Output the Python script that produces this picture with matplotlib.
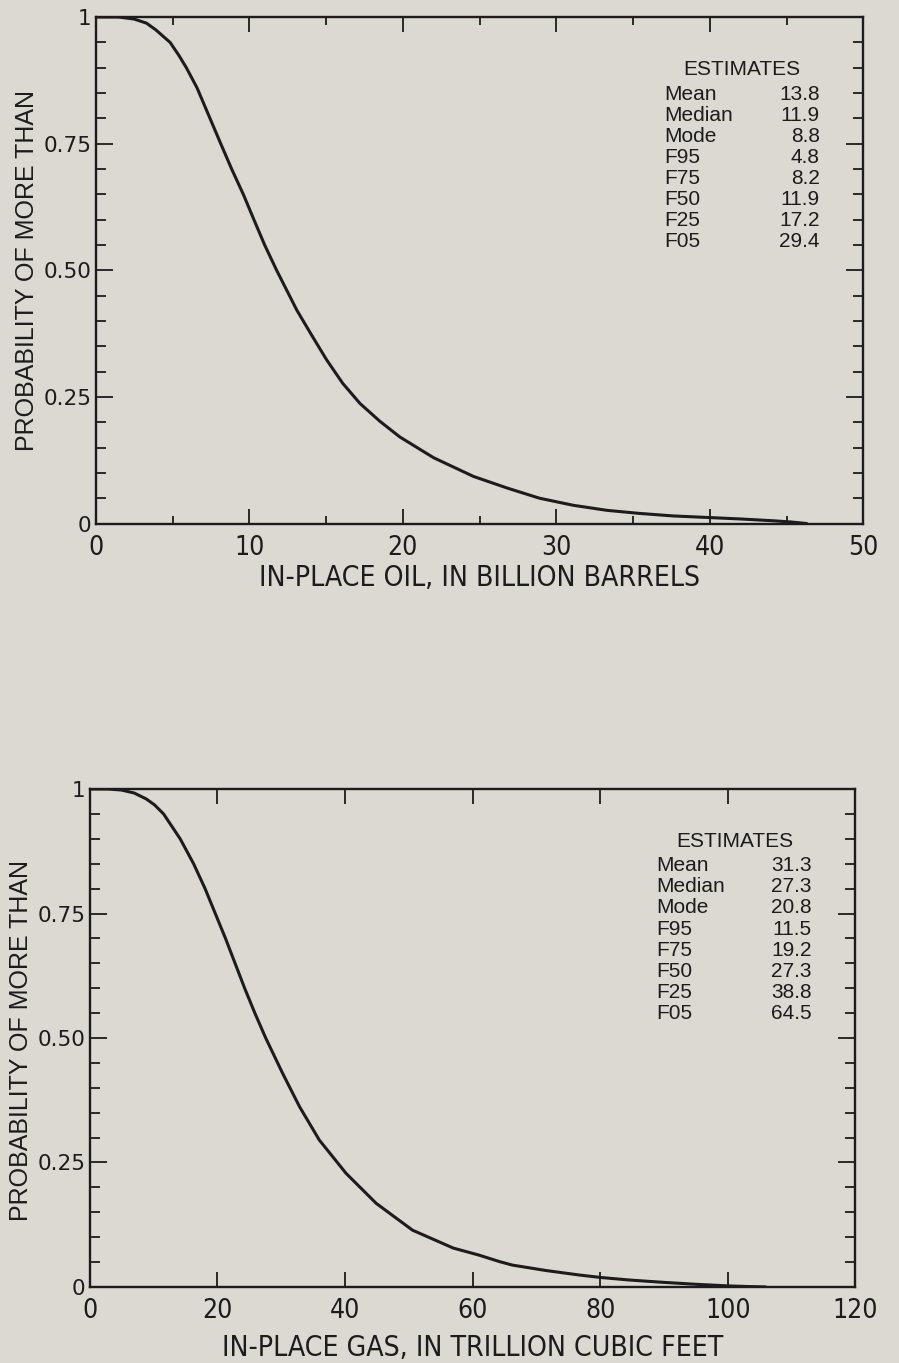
import matplotlib
matplotlib.use("Agg")
import matplotlib.pyplot as plt
from matplotlib.ticker import MultipleLocator, NullLocator

# ---------------- data ----------------
oil_x = [0, 1.5, 2.5, 3.3, 3.9, 4.84, 5.4, 5.9, 6.6, 7.44, 8.14, 8.85, 9.61,
         10.3, 11.0, 11.78, 13.1, 14.06, 15.04, 16.08, 17.21, 18.5, 19.8,
         22.0, 24.6, 26.8, 28.9, 31.1, 33.3, 35.4, 37.6, 39.8, 42.0, 44.1,
         45.3, 46.3]
oil_p = [1.0, 1.0, 0.996, 0.988, 0.975, 0.95, 0.925, 0.90, 0.86, 0.80, 0.75,
         0.70, 0.65, 0.60, 0.55, 0.50, 0.421, 0.372, 0.323, 0.277, 0.237,
         0.202, 0.171, 0.130, 0.093, 0.070, 0.050, 0.036, 0.026, 0.020,
         0.015, 0.012, 0.009, 0.0055, 0.003, 0.0]

gas_x = [0, 3, 5, 7, 8.9, 10.2, 11.6, 14.2, 16.3, 18.1, 19.7, 21.3, 22.8,
         24.3, 25.9, 27.6, 30.25, 32.9, 36.0, 40.2, 44.9, 50.6, 57.0, 61.0,
         64.2, 66.2, 71.5, 76.7, 80.1, 84.5, 89.7, 94.9, 100.2, 102.8, 105.9]
gas_p = [1.0, 1.0, 0.998, 0.992, 0.98, 0.968, 0.95, 0.90, 0.85, 0.80, 0.75,
         0.70, 0.65, 0.60, 0.55, 0.50, 0.429, 0.362, 0.295, 0.228, 0.168,
         0.114, 0.078, 0.064, 0.051, 0.044, 0.033, 0.024, 0.019, 0.014,
         0.0094, 0.0054, 0.002, 0.001, 0.0]

est_names = ["Mean", "Median", "Mode", "F95", "F75", "F50", "F25", "F05"]
oil_est = [13.8, 11.9, 8.8, 4.8, 8.2, 11.9, 17.2, 29.4]
gas_est = [31.3, 27.3, 20.8, 11.5, 19.2, 27.3, 38.8, 64.5]

oil_xticks = [0, 10, 20, 30, 40, 50]
gas_xticks = [0, 20, 40, 60, 80, 100, 120]
y_ticks = [0, 0.25, 0.50, 0.75, 1]
y_ticklabels = ["0", "0.25", "0.50", "0.75", "1"]

oil_xlabel = "IN-PLACE OIL, IN BILLION BARRELS"
gas_xlabel = "IN-PLACE GAS, IN TRILLION CUBIC FEET"
ylabel = "PROBABILITY OF MORE THAN"
est_title = "ESTIMATES"

# ---------------- style ----------------
BG = "#dcd8d2"
INK = "#1c1c1c"
SANS = ["Liberation Sans", "DejaVu Sans"]
COND = dict(family=["DejaVu Sans"], stretch="condensed")

plt.rcParams["font.family"] = SANS
plt.rcParams["text.color"] = INK

fig = plt.figure(figsize=(8.99, 13.63), dpi=100, facecolor=BG)
ax1 = fig.add_axes([0.1065, 0.6159, 0.854, 0.3716])
ax2 = fig.add_axes([0.0996, 0.0558, 0.852, 0.3653])


def style(ax, xmax, xticks, xminor, xlabel, xl_y, yl_x, yl_y):
    ax.set_facecolor(BG)
    ax.set_xlim(0, xmax)
    ax.set_ylim(0, 1)
    ax.set_xticks(xticks)
    ax.set_xticklabels([str(t) for t in xticks], fontsize=19, color=INK,
                       **COND)
    if xminor:
        ax.xaxis.set_minor_locator(MultipleLocator(xminor))
    else:
        ax.xaxis.set_minor_locator(NullLocator())
    ax.set_yticks(y_ticks)
    ax.set_yticklabels(y_ticklabels, family=["DejaVu Sans"], fontsize=15.5,
                       color=INK)
    ax.yaxis.set_minor_locator(MultipleLocator(0.05))
    ax.tick_params(which="both", direction="in", top=True, right=True,
                   color=INK, width=1.3)
    ax.tick_params(axis="x", which="major", length=11, pad=8)
    ax.tick_params(axis="x", which="minor", length=6)
    ax.tick_params(axis="y", which="major", length=12.5, pad=3)
    ax.tick_params(axis="y", which="minor", length=7)
    for s in ax.spines.values():
        s.set_linewidth(1.7)
        s.set_color(INK)
    ax.set_xlabel(xlabel, fontsize=20.3, color=INK, **COND)
    ax.xaxis.set_label_coords(0.5, xl_y)
    ax.xaxis.label.set_verticalalignment("center")
    ax.set_ylabel(ylabel, family=SANS, fontsize=18, color=INK)
    ax.yaxis.set_label_coords(yl_x, yl_y)
    ax.yaxis.label.set_verticalalignment("center")


def estimates(ax, values, y0, step):
    ax.text(0.842, y0, est_title, transform=ax.transAxes, ha="center",
            va="center", fontsize=15, family=SANS, color=INK)
    for i, (n, v) in enumerate(zip(est_names, values)):
        y = y0 - 0.049 - i * step
        ax.text(0.740, y, n, transform=ax.transAxes, ha="left", va="center",
                fontsize=15, family=SANS, color=INK)
        ax.text(0.943, y, f"{v:.1f}", transform=ax.transAxes, ha="right",
                va="center", fontsize=15, family=SANS, color=INK)


ax1.plot(oil_x, oil_p, color=INK, lw=2.2, solid_capstyle="round",
         solid_joinstyle="round")
style(ax1, 50, oil_xticks, 5, oil_xlabel, -0.108, -0.089, 0.5)
estimates(ax1, oil_est, 0.897, 0.0415)

ax2.plot(gas_x, gas_p, color=INK, lw=2.2, solid_capstyle="round",
         solid_joinstyle="round")
style(ax2, 120, gas_xticks, None, gas_xlabel, -0.122, -0.089, 0.494)
estimates(ax2, gas_est, 0.895, 0.0424)

fig.savefig("out.png", dpi=100, facecolor=BG)
